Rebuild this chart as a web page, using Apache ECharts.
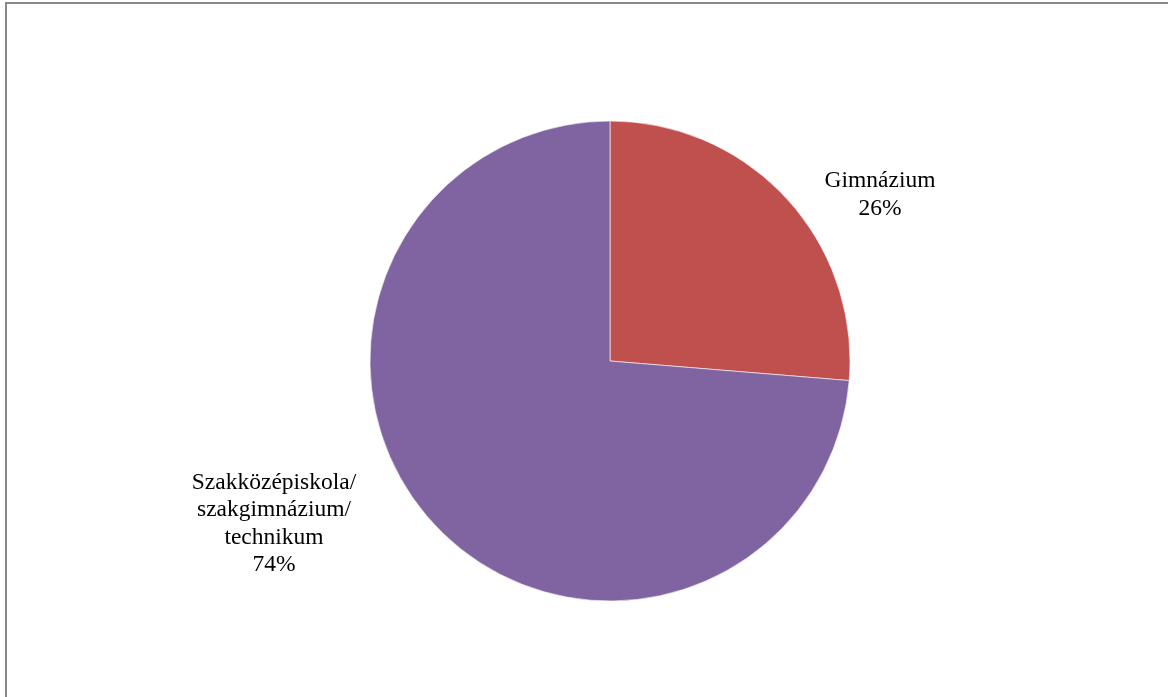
<!DOCTYPE html>
<html>
<head>
<meta charset="utf-8">
<script src="https://cdn.jsdelivr.net/npm/echarts@6/dist/echarts.min.js"></script>
<style>
  html, body { margin: 0; padding: 0; background: #fff; }
  #chart { width: 1168px; height: 697px; }
</style>
</head>
<body>
<div id="chart"></div>
<script>
// school types and their share (%)
const categories = ['Gimnázium', 'Szakközépiskola/\nszakgimnázium/\ntechnikum']
const values = [26.3, 73.7]
const colors = ['#C0504D', '#8064A2']

// where each label sits (centre point)
const labelPos = [[880, 195], [274, 524]]

const chart = echarts.init(document.getElementById('chart'))
chart.setOption({
  animation: false,
  graphic: [{
    type: 'rect',
    shape: { x: 6, y: 3, width: 1170, height: 700 },
    style: { fill: 'none', stroke: '#888888', lineWidth: 2 },
    silent: true
  }],
  series: [{
    type: 'pie',
    center: [610, 361],
    radius: 240,
    startAngle: 90,
    clockwise: true,
    percentPrecision: 0,
    data: categories.map((name, i) => ({
      name: name,
      value: values[i],
      itemStyle: { color: colors[i] }
    })),
    itemStyle: { borderColor: '#ffffff', borderWidth: 0.6 },
    label: {
      show: true,
      position: 'outside',
      formatter: '{b}\n{d}%',
      fontFamily: 'Liberation Serif',
      fontSize: 23.5,
      lineHeight: 27.5,
      color: '#000000',
      align: 'center'
    },
    labelLine: { show: false },
    labelLayout: function (params) {
      const p = labelPos[params.dataIndex]
      return { x: p[0], y: p[1], align: 'center', verticalAlign: 'middle' }
    }
  }]
})
</script>
</body>
</html>
